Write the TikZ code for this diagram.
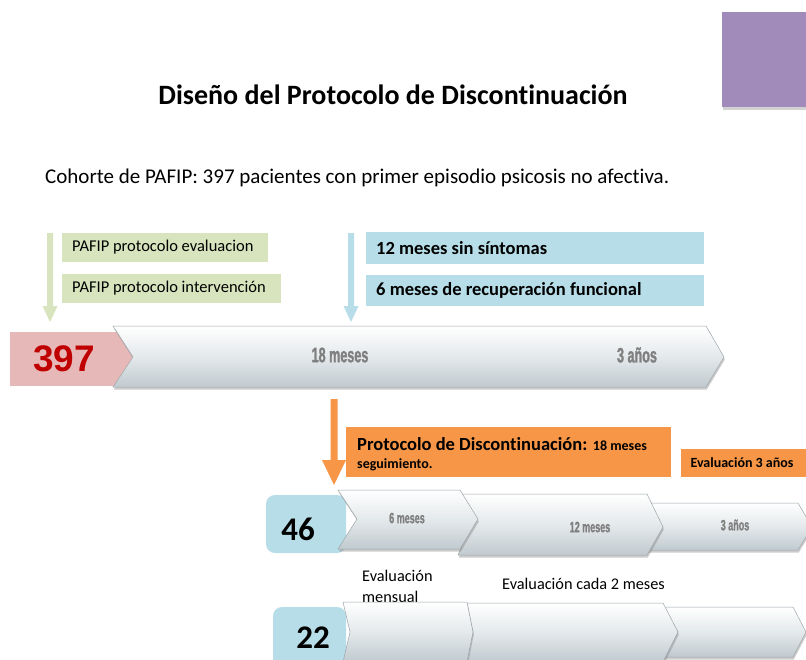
\documentclass[tikz,border=0pt]{standalone}
\usepackage{fontspec}
\setmainfont{Carlito}[Ligatures=NoCommon]
\newfontfamily\arialf{Liberation Sans}
\newfontfamily\condf[FakeStretch=0.6,FakeBold=1.2]{Liberation Sans}
\usetikzlibrary{shadows}
\definecolor{pgreen}{HTML}{D7E4BD}
\definecolor{pblue}{HTML}{B7DEE8}
\definecolor{ppink}{HTML}{E6B9B8}
\definecolor{pred}{HTML}{C00000}
\definecolor{porange}{HTML}{F79646}
\definecolor{ppurple}{HTML}{A18BBB}
\definecolor{chgray}{HTML}{C0CACF}
\definecolor{chmid}{HTML}{E4E9EB}
\definecolor{chedge}{HTML}{9EA6AA}
\definecolor{labgray}{HTML}{7F7F7F}
\tikzset{
  chevfill/.style={top color=white, bottom color=chgray, middle color=chmid,
    draw=chedge, line width=0.5pt,
    drop shadow={shadow xshift=0.8pt, shadow yshift=-2.5pt, opacity=0.4}},
  chlabel/.style={font=\condf\bfseries\fontsize{21}{21}\selectfont, text=labgray, inner sep=0pt},
  chlabelsm/.style={font=\condf\bfseries\fontsize{15}{15}\selectfont, text=labgray, inner sep=0pt},
  txt/.style={inner sep=0pt, anchor=base west},
}
% x0 x1 yt yb dl dr ym
\newcommand\chev[7]{%
  \path[chevfill] (#1,#3) -- ({#2-#6},#3) -- (#2,#7) -- ({#2-#6},#4) -- (#1,#4) -- ({#1+#5},#7) -- cycle;}
% x ytop yhead ytip halfshaft halfhead colour
\newcommand\dnarrow[7]{%
  \fill[#7] ({#1-#5},#2) -- ({#1+#5},#2) -- ({#1+#5},#3) -- ({#1+#6},#3) -- (#1,#4)
    -- ({#1-#6},#3) -- ({#1-#5},#3) -- cycle;}
\begin{document}
\begin{tikzpicture}[x=1pt, y=-1pt]
\useasboundingbox (0,0) rectangle (806,659);
\clip (0,0) rectangle (806,659);
\fill[white] (0,0) rectangle (806,659);

% purple square
\path[fill=ppurple, drop shadow={shadow xshift=1pt, shadow yshift=-3pt, opacity=0.35}]
  (722,12) rectangle (812,107);

% title and subtitle
\node[inner sep=0pt, font=\bfseries\fontsize{28}{28}\selectfont] (title) at (393,95) {Diseño del Protocolo de Discontinuación};
\node[txt, font=\fontsize{21}{21}\selectfont] (cohorte) at (45,183) {Cohorte de PAFIP: 397 pacientes con primer episodio psicosis no afectiva.};

% arrows
\dnarrow{50}{233}{306}{322}{3}{7.5}{pgreen}
\dnarrow{351}{233}{306}{322}{3}{7.5}{pblue}
\dnarrow{334}{399}{460}{485}{3.5}{12}{porange}

% green boxes
\fill[pgreen] (62,233) rectangle (268,262);
\node[anchor=west, inner sep=0pt, font=\fontsize{16.5}{16.5}\selectfont] (g1) at (72,247.5) {PAFIP protocolo evaluacion};
\fill[pgreen] (62,274) rectangle (281,303);
\node[anchor=west, inner sep=0pt, font=\fontsize{16.5}{16.5}\selectfont] (g2) at (72,288.5) {PAFIP protocolo intervención};

% blue boxes
\fill[pblue] (366,232) rectangle (704,264);
\node[anchor=west, inner sep=0pt, font=\bfseries\fontsize{18.5}{18.5}\selectfont] (b1) at (376,248) {12 meses sin síntomas};
\fill[pblue] (366,275) rectangle (704,306);
\node[anchor=west, inner sep=0pt, font=\bfseries\fontsize{18.5}{18.5}\selectfont] (b2) at (376,290.5) {6 meses de recuperación funcional};

% main timeline
\fill[ppink] (10,332) rectangle (135,386);
\chev{113}{724}{326}{387}{20}{18}{357}
\node[inner sep=0pt, font=\arialf\bfseries\fontsize{37}{37}\selectfont, text=pred] (n397) at (64,359) {397};
\node[chlabel] (l18) at (340,355) {18 meses};
\node[chlabel] (l3a) at (637,355) {3 años};

% orange boxes
\fill[porange] (346,427) rectangle (671,477);
\node[txt, font=\bfseries\fontsize{18.5}{18.5}\selectfont] (o1) at (357,450) {Protocolo de Discontinuación: {\fontsize{14}{14}\selectfont 18 meses}};
\node[txt, font=\bfseries\fontsize{14}{14}\selectfont] (o2) at (357,468) {seguimiento.};
\fill[porange] (681,449) rectangle (806,477);
\node[inner sep=0pt, font=\bfseries\fontsize{14}{14}\selectfont] (o3) at (742,463) {Evaluación 3 años};

% row 46
\fill[pblue, rounded corners=9pt] (266,495) rectangle (346,553);
\chev{648}{812}{503}{550}{15}{14}{527}
\chev{458}{663}{494}{555}{12}{16}{527}
\chev{338}{478}{490}{549}{19}{18}{519}
\node[inner sep=0pt, font=\bfseries\fontsize{33}{33}\selectfont] (n46) at (298,529) {46};
\node[chlabelsm] (r6) at (407,518) {6 meses};
\node[chlabelsm] (r12) at (590,527) {12 meses};
\node[chlabelsm] (r3) at (735,525) {3 años};

% evaluation texts
\node[txt, font=\fontsize{16.3}{16.3}\selectfont] (ev1) at (362,581) {Evaluación};
\node[txt, font=\fontsize{16.3}{16.3}\selectfont] (ev1b) at (362,602) {mensual};
\node[txt, font=\fontsize{16.3}{16.3}\selectfont] (ev2) at (502,589) {Evaluación cada 2 meses};

% row 22
\fill[pblue, rounded corners=9pt] (273,607) rectangle (346,680);
\chev{663}{806}{607}{657}{15}{13}{632}
\chev{466}{678}{603}{662}{7}{15}{632}
\chev{343}{473}{602}{662}{7}{6}{632}
\node[inner sep=0pt, font=\bfseries\fontsize{33}{33}\selectfont] (n22) at (313,638) {22};
\end{tikzpicture}
\end{document}
